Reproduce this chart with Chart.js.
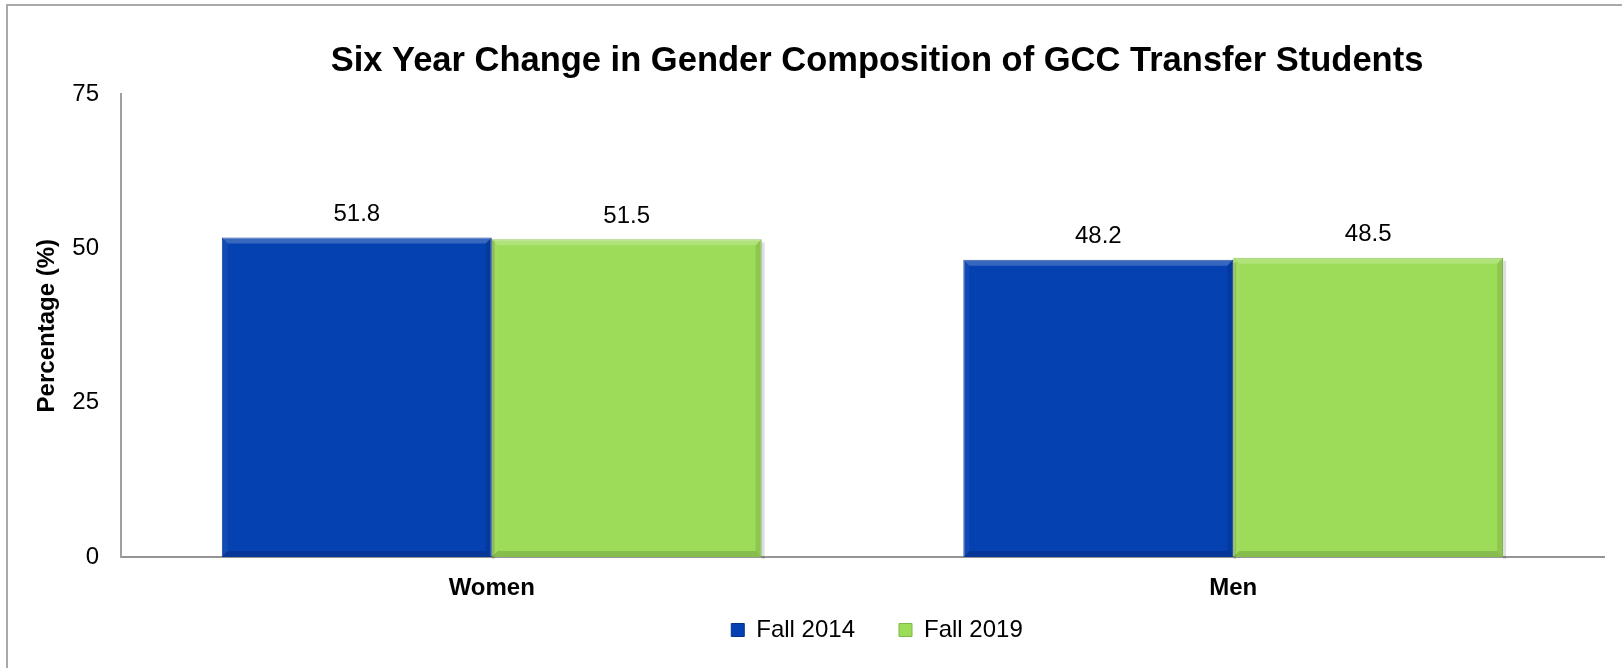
<!DOCTYPE html>
<html>
<head>
<meta charset="utf-8">
<script src="https://cdn.jsdelivr.net/npm/chart.js@4"></script>
<style>
  html, body { margin: 0; padding: 0; background: #fff; overflow: hidden; width: 1622px; height: 668px; }
  #wrap { position: absolute; left: 0; top: 0; width: 1622px; height: 668px; overflow: hidden; }
  #frame { position: absolute; left: 6px; top: 4px; width: 1736px; height: 700px; border: 2px solid #a9a9a9; box-sizing: border-box; }
  #c { position: absolute; left: 0; top: 0; }
</style>
</head>
<body>
<div id="wrap">
  <div id="frame"></div>
  <canvas id="c" width="1754" height="668"></canvas>
</div>
<script>
const categories = ['Women', 'Men'];
const seriesNames = ['Fall 2014', 'Fall 2019'];
const fall2014 = [51.8, 48.2];
const fall2019 = [51.5, 48.5];
const yTicks = [0, 25, 50, 75];
const titleText = 'Six Year Change in Gender Composition of GCC Transfer Students';
const yTitle = 'Percentage (%)';

const FONT = "'Liberation Sans', Arial, sans-serif";

// bevel-like shading drawn on each bar, from the bar elements' own geometry
const bevel = {
  id: 'bevel',
  afterDatasetsDraw(chart) {
    const ctx = chart.ctx;
    const b = 6;
    ctx.save();
    chart.data.datasets.forEach((ds, i) => {
      const meta = chart.getDatasetMeta(i);
      meta.data.forEach((el) => {
        const l = el.x - el.width / 2, r = el.x + el.width / 2;
        const t = el.y, bt = el.base;
        ctx.fillStyle = 'rgba(0,0,0,0.13)';
        ctx.fillRect(r, t + 3, 3, bt - t - 1);
        ctx.beginPath();
        ctx.moveTo(l, t); ctx.lineTo(r, t); ctx.lineTo(r - b, t + b); ctx.lineTo(l + b, t + b); ctx.closePath();
        ctx.fillStyle = 'rgba(255,255,255,0.2)';
        ctx.fill();
        ctx.beginPath();
        ctx.moveTo(r, t); ctx.lineTo(r, bt); ctx.lineTo(r - b, bt - b); ctx.lineTo(r - b, t + b); ctx.closePath();
        ctx.fillStyle = 'rgba(0,0,0,0.10)';
        ctx.fill();
        ctx.beginPath();
        ctx.moveTo(l, bt); ctx.lineTo(r, bt); ctx.lineTo(r - b, bt - b); ctx.lineTo(l + b, bt - b); ctx.closePath();
        ctx.fillStyle = 'rgba(0,0,0,0.14)';
        ctx.fill();
        ctx.beginPath();
        ctx.moveTo(l, t); ctx.lineTo(l + b, t + b); ctx.lineTo(l + b, bt - b); ctx.lineTo(l, bt); ctx.closePath();
        ctx.fillStyle = 'rgba(255,255,255,0.05)';
        ctx.fill();
      });
    });
    ctx.restore();
  }
};

const valueLabels = {
  id: 'valueLabels',
  afterDatasetsDraw(chart) {
    const ctx = chart.ctx;
    ctx.save();
    ctx.font = '24px ' + FONT;
    ctx.fillStyle = '#000';
    ctx.textAlign = 'center';
    ctx.textBaseline = 'middle';
    chart.data.datasets.forEach((ds, i) => {
      const meta = chart.getDatasetMeta(i);
      meta.data.forEach((el, j) => {
        ctx.fillText(ds.data[j].toFixed(1), el.x, el.y - 23);
      });
    });
    ctx.restore();
  }
};

new Chart(document.getElementById('c'), {
  type: 'bar',
  data: {
    labels: categories,
    datasets: [
      { label: seriesNames[0], data: fall2014, backgroundColor: '#0541B0', borderColor: '#03338f', borderWidth: 1 },
      { label: seriesNames[1], data: fall2019, backgroundColor: '#9DDC59', borderColor: '#7cba44', borderWidth: 1 }
    ]
  },
  options: {
    responsive: false,
    animation: false,
    devicePixelRatio: 1,
    layout: { padding: { top: 0, left: 0, right: 0, bottom: 16 } },
    datasets: { bar: { categoryPercentage: 0.728, barPercentage: 1.0 } },
    plugins: {
      title: {
        display: true,
        text: titleText,
        color: '#000',
        font: { family: FONT, size: 34.5, weight: 'bold' },
        padding: { top: 41, bottom: 12 }
      },
      legend: {
        display: true,
        position: 'bottom',
        labels: {
          color: '#000',
          font: { family: FONT, size: 24 },
          boxWidth: 13,
          boxHeight: 13,
          padding: 44
        }
      },
      tooltip: { enabled: false }
    },
    scales: {
      x: {
        grid: { display: false, drawTicks: false },
        border: { display: true, color: '#959595', width: 2 },
        ticks: { color: '#000', font: { family: FONT, size: 24, weight: 'bold' }, padding: 17 },
        afterFit(s) {
          s.height = 17;
          s._computeLabelArea = function () { return undefined; };
        }
      },
      y: {
        min: 0,
        max: 75,
        grid: { display: false, drawTicks: false },
        border: { display: true, color: '#a0a0a0', width: 2 },
        afterBuildTicks(s) { s.ticks = yTicks.map(v => ({ value: v })); },
        ticks: { color: '#000', font: { family: FONT, size: 24 }, padding: 22 },
        title: {
          display: true,
          text: yTitle,
          color: '#000',
          font: { family: FONT, size: 24, weight: 'bold' },
          padding: { top: 33, bottom: 0 }
        },
        afterFit(s) { s.width = 121; }
      },
      y2: {
        position: 'right',
        display: true,
        grid: { display: false, drawTicks: false },
        border: { display: false },
        ticks: { display: false },
        afterFit(s) { s.width = 150; }
      }
    }
  },
  plugins: [bevel, valueLabels]
});
</script>
</body>
</html>
